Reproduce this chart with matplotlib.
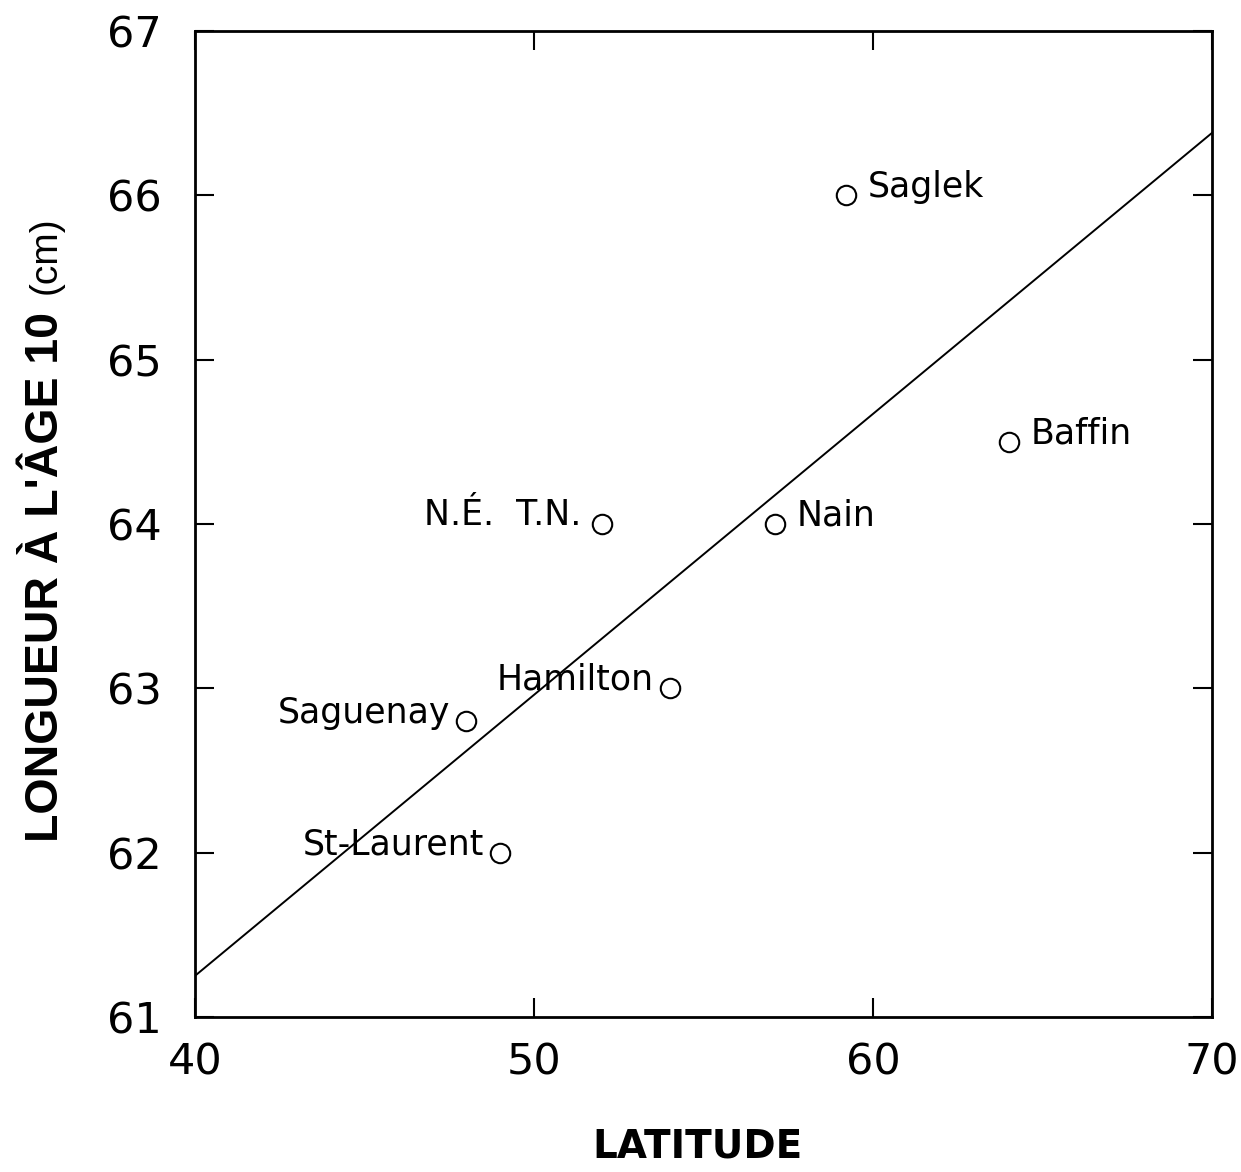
import matplotlib
matplotlib.use("Agg")
import matplotlib.pyplot as plt
import numpy as np

# Station data: latitude (°N) and length at age 10 (cm)
stations = ["Saglek", "Baffin", "Nain", "N.É.  T.N.", "Hamilton", "Saguenay", "St-Laurent"]
latitude = [59.2, 64.0, 57.1, 52.0, 54.0, 48.0, 49.0]
length_age10 = [66.0, 64.5, 64.0, 64.0, 63.0, 62.8, 62.0]
# label side: +1 right of point, -1 left of point
label_side = [1, 1, 1, -1, -1, -1, -1]

# Regression line (length = a + b * latitude)
reg_intercept = 54.41
reg_slope = 0.171

xticks = [40, 50, 60, 70]
yticks = [61, 62, 63, 64, 65, 66, 67]

plt.rcParams["font.family"] = ["DejaVu Sans"]

fig = plt.figure(figsize=(12.41, 11.72), dpi=100)
ax = fig.add_axes([0.1571, 0.1323, 0.8195, 0.8412])

ax.set_xlim(40, 70)
ax.set_ylim(61, 67)

xl = np.array([40, 70])
ax.plot(xl, reg_intercept + reg_slope * xl, color="black", lw=1.4)

ax.plot(latitude, length_age10, linestyle="none", marker="o", ms=14,
        mfc="white", mec="black", mew=1.5, zorder=3)

for name, x, y, side in zip(stations, latitude, length_age10, label_side):
    dx = 16 if side > 0 else -11.5
    if name.startswith("N.É"):
        dx = -15
    ax.annotate(name, (x, y), xytext=(dx, -1), textcoords="offset points",
                ha="left" if side > 0 else "right", va="baseline",
                fontsize=25, zorder=4)

ax.set_xticks(xticks)
ax.set_yticks(yticks)
ax.tick_params(axis="both", direction="in", length=14, width=1.5,
               top=True, right=True, labelsize=31)
ax.tick_params(axis="y", pad=24)
ax.tick_params(axis="x", pad=18)
for sp in ax.spines.values():
    sp.set_linewidth(2)

# Only interior ticks carry marks
for t in ax.xaxis.get_major_ticks():
    if t.get_loc() in (40, 70):
        t.tick1line.set_visible(False)
        t.tick2line.set_visible(False)
for t in ax.yaxis.get_major_ticks():
    if t.get_loc() in (61, 67):
        t.tick1line.set_visible(False)
        t.tick2line.set_visible(False)

fig.text(698 / 1241, 1 - 1147 / 1172, "LATITUDE", ha="center", va="center",
         fontsize=28, fontweight="bold")

# Y label: bold part followed by regular unit
fig.canvas.draw()
renderer = fig.canvas.get_renderer()
ylab_x = 46 / 1241
bold = fig.text(ylab_x, 1 - 842 / 1172, "LONGUEUR À L'ÂGE 10", rotation=90,
                ha="center", va="bottom", fontsize=33.5, fontweight="bold",
                family=["Liberation Sans", "DejaVu Sans"])
bb = bold.get_window_extent(renderer)
top_frac = (bb.y1 + 18) / fig.bbox.height
fig.text(ylab_x, top_frac, "(cm)", rotation=90, ha="center", va="bottom",
         fontsize=28, family=["Liberation Sans", "DejaVu Sans"])

fig.savefig("out.png", dpi=100)
